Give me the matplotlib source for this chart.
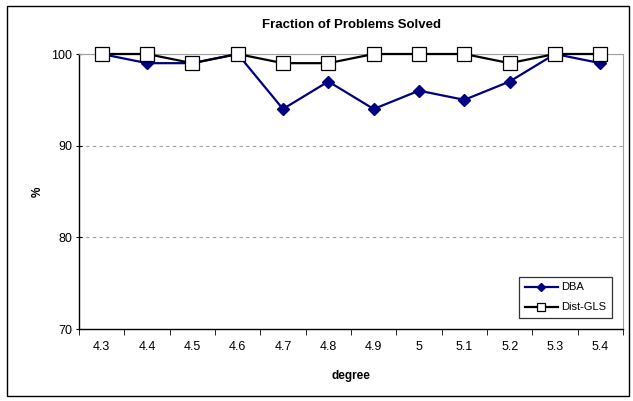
import numpy as np
import matplotlib.pyplot as plt
from matplotlib.patches import Rectangle

plt.rcParams['font.family'] = ['Liberation Sans', 'DejaVu Sans']

# chart data
degree = ['4.3', '4.4', '4.5', '4.6', '4.7', '4.8', '4.9', '5', '5.1', '5.2', '5.3', '5.4']
dba = [100, 99, 99, 100, 94, 97, 94, 96, 95, 97, 100, 99]
dist_gls = [100, 100, 99, 100, 99, 99, 100, 100, 100, 99, 100, 100]

fig = plt.figure(figsize=(6.33, 4.01), dpi=100)
fig.patches.append(Rectangle((7 / 633, 5 / 401), 622 / 633, 390 / 401, transform=fig.transFigure,
                             fill=False, edgecolor='black', linewidth=1.0))

ax = fig.add_axes([79 / 633, 72 / 401, 544 / 633, 275 / 401])
x = np.arange(len(degree))

ax.plot(x, dba, color='#000080', linewidth=1.6, marker='D', markersize=6.5,
        markerfacecolor='#000080', markeredgecolor='#000080', label='DBA', zorder=3,
        clip_on=False)
ax.plot(x, dist_gls, color='black', linewidth=1.6, marker='s', markersize=10,
        markerfacecolor='white', markeredgecolor='black', markeredgewidth=0.9,
        label='Dist-GLS', zorder=4, clip_on=False)

ax.set_xlim(-0.5, len(degree) - 0.5)
ax.set_ylim(70, 100)
ax.set_yticks([70, 80, 90, 100])
ax.set_xticks(x)
ax.set_xticklabels(degree, fontsize=9)
ax.tick_params(axis='x', length=0, pad=9)
ax.set_xticks(np.arange(-0.5, len(degree)), minor=True)
ax.tick_params(axis='x', which='minor', length=4, direction='out', color='black')
ax.tick_params(axis='y', labelsize=9, length=4, direction='inout', pad=3)

for yv in [80, 90]:
    ax.axhline(yv, color='#a0a0a0', linestyle=(0, (3, 3)), linewidth=0.8, zorder=1)
ax.axhline(100, color='#a0a0a0', linewidth=0.8, zorder=1)

for side in ['top', 'right']:
    ax.spines[side].set_color('#a0a0a0')
    ax.spines[side].set_linewidth(0.8)
for side in ['left', 'bottom']:
    ax.spines[side].set_color('black')
    ax.spines[side].set_linewidth(1.0)

ax.set_title('Fraction of Problems Solved', fontsize=9.5, fontweight='bold', pad=19)
ax.set_xlabel('degree', fontsize=8.5, fontweight='bold', labelpad=12)
ax.set_ylabel('%', fontsize=8.5, fontweight='bold', labelpad=5)

leg = ax.legend(loc='lower right', fontsize=8, frameon=True, fancybox=False,
                edgecolor='black', borderpad=0.5, labelspacing=0.9, handlelength=3,
                markerscale=0.6, handletextpad=0.3, bbox_to_anchor=(0.99, 0.02))
leg.get_frame().set_linewidth(0.9)
leg.set_zorder(5)

fig.savefig('out.png', dpi=100)
